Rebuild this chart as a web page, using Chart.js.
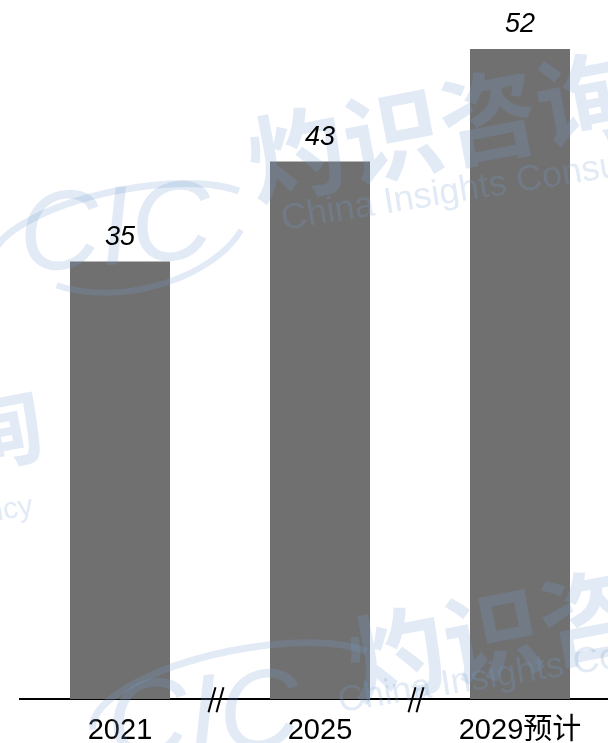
<!DOCTYPE html>
<html>
<head>
<meta charset="utf-8">
<script src="https://cdn.jsdelivr.net/npm/chart.js@4/dist/chart.umd.min.js"></script>
<style>
html,body{margin:0;padding:0;overflow:hidden;background:#fff;width:608px;height:743px;}
canvas{display:block;}
</style>
</head>
<body>
<canvas id="c" width="620" height="762"></canvas>
<script>
const categories = ['2021', '2025', '2029预计'];
const values = [35, 43, 52];
const breakAfter = [0, 1]; // axis break marks after these category indexes

const WM = 'rgba(120,160,210,0.22)';

function drawWatermark(ctx) {
  ctx.save();
  ctx.fillStyle = WM;
  ctx.strokeStyle = WM;
  // top group
  ctx.save();
  ctx.translate(255, 200); ctx.rotate(-0.19);
  ctx.font = 'bold 98px "Noto Sans CJK SC"';
  ctx.textBaseline = 'alphabetic';
  ctx.fillText('灼识咨询', 0, 0);
  ctx.restore();
  ctx.save();
  ctx.translate(283, 230); ctx.rotate(-0.16);
  ctx.font = '36px "Liberation Sans", Arial';
  ctx.fillText('China Insights Consultancy', 0, 0);
  ctx.restore();
  // CIC logo top-left
  ctx.save();
  ctx.font = 'italic 112px "Liberation Sans", Arial';
  ctx.translate(22, 272); ctx.rotate(-0.08);
  ctx.fillText('CIC', 0, 0);
  ctx.restore();
  ctx.lineWidth = 7;
  ctx.beginPath();
  ctx.ellipse(125, 235, 135, 45, -0.2, Math.PI * 1.0, Math.PI * 1.85);
  ctx.stroke();
  ctx.lineWidth = 6;
  ctx.beginPath();
  ctx.ellipse(130, 220, 120, 70, -0.2, Math.PI * 0.15, Math.PI * 0.75);
  ctx.stroke();
  // left middle fragment
  ctx.save();
  ctx.translate(-40, 470); ctx.rotate(-0.19);
  ctx.font = 'bold 90px "Noto Sans CJK SC"';
  ctx.fillText('询', 0, 0);
  ctx.restore();
  ctx.save();
  ctx.translate(-12, 522); ctx.rotate(-0.16);
  ctx.font = '30px "Liberation Sans", Arial';
  ctx.fillText('ncy', 0, 0);
  ctx.restore();
  // bottom group
  ctx.save();
  ctx.translate(355, 700); ctx.rotate(-0.19);
  ctx.font = 'bold 98px "Noto Sans CJK SC"';
  ctx.fillText('灼识咨询', 0, 0);
  ctx.restore();
  ctx.save();
  ctx.translate(340, 712); ctx.rotate(-0.16);
  ctx.font = '36px "Liberation Sans", Arial';
  ctx.fillText('China Insights Consultancy', 0, 0);
  ctx.restore();
  ctx.save();
  ctx.font = 'italic 112px "Liberation Sans", Arial';
  ctx.translate(110, 760); ctx.rotate(-0.08);
  ctx.fillText('CIC', 0, 0);
  ctx.restore();
  ctx.lineWidth = 7;
  ctx.beginPath();
  ctx.ellipse(240, 700, 150, 50, -0.2, Math.PI * 1.0, Math.PI * 1.85);
  ctx.stroke();
  ctx.restore();
}

const extras = {
  id: 'extras',
  afterDraw(chart) {
    const ctx = chart.ctx;
    drawWatermark(ctx);
    // value labels
    const meta = chart.getDatasetMeta(0);
    ctx.save();
    ctx.fillStyle = '#000';
    ctx.font = 'italic 27px "Liberation Sans", Arial';
    ctx.textAlign = 'center';
    ctx.textBaseline = 'alphabetic';
    meta.data.forEach((bar, i) => {
      ctx.fillText(String(values[i]), bar.x, bar.y - 17);
    });
    ctx.restore();
    // axis break marks
    const xs = chart.scales.x;
    const yb = chart.chartArea.bottom;
    ctx.save();
    ctx.strokeStyle = '#000';
    ctx.lineWidth = 2;
    breakAfter.forEach(i => {
      const mid = (xs.getPixelForValue(i) + xs.getPixelForValue(i + 1)) / 2;
      const cx = mid - 4;
      [-4, 4].forEach(o => {
        ctx.beginPath();
        ctx.moveTo(cx + o - 3.5, yb + 13);
        ctx.lineTo(cx + o + 3.5, yb - 12);
        ctx.stroke();
      });
    });
    ctx.restore();
  }
};

new Chart(document.getElementById('c'), {
  type: 'bar',
  data: {
    labels: categories,
    datasets: [{
      data: values,
      backgroundColor: '#707070',
      borderWidth: 0,
      barPercentage: 0.5,
      categoryPercentage: 1.0
    }]
  },
  options: {
    responsive: false,
    animation: false,
    layout: { padding: { left: 20, right: 0, top: 0, bottom: 0 } },
    plugins: { legend: { display: false }, tooltip: { enabled: false } },
    scales: {
      x: {
        grid: { display: false, drawTicks: false },
        border: { display: true, color: '#000', width: 2 },
        ticks: {
          color: '#000',
          padding: 14,
          font: { size: 29, family: '"Liberation Sans", Arial, "Noto Sans CJK SC"' }
        }
      },
      y: { display: false, min: 0, max: 55.92 }
    }
  },
  plugins: [extras]
});
</script>
</body>
</html>
